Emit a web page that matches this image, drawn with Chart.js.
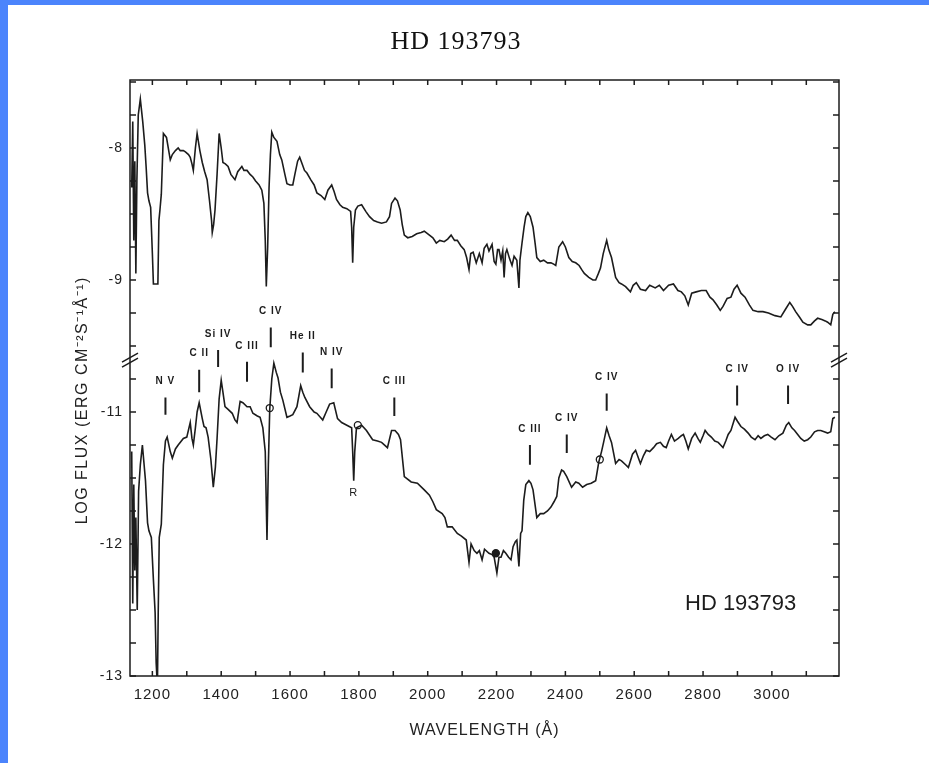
<!DOCTYPE html>
<html>
<head>
<meta charset="utf-8">
<title>HD 193793</title>
<script src="https://cdn.jsdelivr.net/npm/chart.js@4.4.1/dist/chart.umd.min.js"></script>
<style>
  html, body { margin: 0; padding: 0; background: #4b84fc; overflow: hidden; }
  #sheet { position: absolute; left: 8px; top: 5px; width: 921px; height: 758px; background: #fff; }
  #box { position: absolute; left: 0; top: 0; width: 896px; height: 758px; }
</style>
</head>
<body>
<div id="sheet"><div id="box"><canvas id="spectrum"></canvas></div></div>
<script>
// upper spectrum (log flux, its own labels -8 / -9)
var upperWave = [
  1140,1143,1146,1149,1152,1155,1159,1165,1172,1178,
  1182,1186,1190,1195,1200,1203,1210,1216,1219,1222,
  1226,1232,1241,1252,1258,1267,1275,1281,1290,1296,
  1305,1310,1315,1319,1325,1330,1338,1345,1352,1359,
  1366,1372,1374,1378,1382,1388,1394,1400,1405,1412,
  1420,1428,1440,1448,1460,1466,1475,1484,1492,1500,
  1510,1518,1524,1528,1531,1535,1539,1543,1547,1553,
  1562,1570,1576,1585,1591,1600,1608,1614,1622,1628,
  1635,1642,1649,1660,1670,1678,1690,1701,1710,1721,
  1728,1735,1745,1753,1765,1776,1779,1782,1785,1790,
  1797,1808,1820,1831,1843,1854,1866,1880,1889,1895,
  1905,1912,1920,1926,1932,1942,1955,1968,1981,1990,
  2005,2015,2025,2035,2048,2058,2068,2078,2086,2096,
  2106,2113,2120,2125,2132,2141,2150,2158,2164,2172,
  2178,2187,2193,2198,2203,2207,2213,2218,2222,2226,
  2230,2238,2245,2251,2259,2265,2268,2274,2280,2285,
  2291,2298,2306,2312,2317,2327,2337,2348,2358,2366,
  2372,2381,2392,2400,2410,2420,2430,2440,2447,2455,
  2468,2480,2488,2496,2502,2510,2520,2526,2534,2546,
  2556,2563,2575,2589,2597,2606,2618,2633,2645,2661,
  2673,2685,2700,2714,2727,2737,2747,2757,2767,2780,
  2795,2809,2820,2829,2840,2850,2858,2870,2881,2890,
  2899,2910,2922,2935,2945,2960,2974,2990,3009,3026,
  3040,3052,3060,3069,3080,3090,3104,3113,3124,3133,
  3145,3155,3162,3171,3177,3183
];
var upperFlux = [
  -8.30,-7.80,-8.70,-8.10,-8.95,-8.25,-7.75,-7.63,-7.80,-7.98,
  -8.15,-8.34,-8.40,-8.45,-8.80,-9.03,-9.03,-9.03,-8.55,-8.47,
  -8.35,-7.89,-7.92,-8.09,-8.05,-8.02,-8.00,-8.02,-8.02,-8.03,
  -8.05,-8.07,-8.12,-8.17,-8.00,-7.89,-8.02,-8.11,-8.18,-8.24,
  -8.40,-8.55,-8.64,-8.58,-8.47,-8.20,-7.89,-8.00,-8.11,-8.12,
  -8.14,-8.20,-8.24,-8.18,-8.14,-8.17,-8.17,-8.20,-8.22,-8.25,
  -8.28,-8.32,-8.42,-8.70,-9.05,-8.75,-8.30,-8.05,-7.88,-7.92,
  -7.95,-8.05,-8.09,-8.20,-8.27,-8.28,-8.28,-8.20,-8.10,-8.07,
  -8.12,-8.17,-8.19,-8.24,-8.28,-8.34,-8.36,-8.39,-8.32,-8.28,
  -8.33,-8.39,-8.43,-8.45,-8.46,-8.48,-8.60,-8.87,-8.60,-8.47,
  -8.44,-8.43,-8.48,-8.52,-8.55,-8.56,-8.57,-8.56,-8.52,-8.42,
  -8.38,-8.40,-8.47,-8.58,-8.66,-8.68,-8.67,-8.65,-8.64,-8.63,
  -8.66,-8.68,-8.72,-8.70,-8.71,-8.69,-8.66,-8.70,-8.70,-8.74,
  -8.77,-8.83,-8.92,-8.80,-8.79,-8.87,-8.80,-8.87,-8.76,-8.73,
  -8.78,-8.73,-8.86,-8.88,-8.77,-8.77,-8.85,-8.78,-8.98,-8.80,
  -8.77,-8.84,-8.89,-8.82,-8.85,-9.06,-8.85,-8.72,-8.60,-8.52,
  -8.49,-8.52,-8.60,-8.72,-8.83,-8.86,-8.85,-8.87,-8.87,-8.88,
  -8.89,-8.75,-8.71,-8.75,-8.83,-8.86,-8.87,-8.89,-8.92,-8.95,
  -8.98,-9.00,-9.00,-8.95,-8.91,-8.80,-8.70,-8.77,-8.83,-8.98,
  -9.02,-9.03,-9.05,-9.09,-9.04,-9.02,-9.07,-9.08,-9.04,-9.06,
  -9.04,-9.08,-9.04,-9.03,-9.08,-9.09,-9.12,-9.19,-9.10,-9.09,
  -9.08,-9.08,-9.13,-9.15,-9.19,-9.23,-9.20,-9.14,-9.13,-9.07,
  -9.04,-9.10,-9.13,-9.19,-9.23,-9.24,-9.24,-9.25,-9.27,-9.28,
  -9.22,-9.17,-9.20,-9.24,-9.28,-9.32,-9.34,-9.34,-9.31,-9.29,
  -9.30,-9.31,-9.32,-9.34,-9.26,-9.24
];

// lower spectrum (log flux, labels -11 .. -13)
var lowerWave = [
  1140,1143,1146,1149,1152,1156,1160,1165,1171,1180,
  1186,1190,1197,1203,1208,1211,1213,1215,1217,1220,
  1226,1232,1238,1243,1252,1258,1267,1275,1290,1300,
  1310,1315,1319,1325,1330,1336,1345,1350,1356,1362,
  1370,1377,1383,1388,1394,1400,1405,1411,1420,1432,
  1440,1446,1455,1463,1475,1484,1492,1505,1513,1521,
  1528,1533,1537,1541,1547,1553,1560,1565,1572,1579,
  1591,1600,1608,1620,1631,1637,1643,1657,1670,1678,
  1695,1705,1715,1727,1738,1750,1765,1779,1782,1785,
  1788,1793,1808,1822,1840,1854,1866,1883,1895,1905,
  1915,1921,1932,1952,1970,1990,2005,2015,2025,2042,
  2050,2057,2071,2086,2098,2112,2120,2126,2135,2143,
  2150,2158,2165,2178,2187,2193,2201,2207,2213,2220,
  2227,2235,2242,2248,2255,2259,2265,2270,2274,2279,
  2285,2294,2300,2306,2317,2327,2337,2348,2358,2367,
  2375,2381,2389,2395,2404,2418,2430,2439,2450,2462,
  2475,2488,2497,2505,2511,2520,2527,2534,2546,2556,
  2563,2575,2583,2595,2604,2618,2627,2635,2645,2656,
  2665,2676,2685,2693,2700,2708,2717,2728,2737,2743,
  2750,2757,2767,2777,2785,2792,2800,2806,2815,2824,
  2834,2844,2851,2858,2866,2873,2881,2893,2900,2910,
  2920,2931,2940,2951,2960,2968,2978,2988,2998,3009,
  3020,3032,3042,3049,3058,3066,3075,3084,3094,3104,
  3113,3124,3133,3142,3152,3162,3171,3177,3183
];
var lowerFlux = [
  -11.30,-12.45,-11.55,-12.20,-11.80,-12.50,-11.60,-11.40,-11.25,-11.52,
  -11.84,-11.90,-11.95,-12.27,-12.52,-12.90,-13.00,-13.00,-12.52,-11.95,
  -11.85,-11.40,-11.22,-11.19,-11.30,-11.35,-11.28,-11.25,-11.20,-11.19,
  -11.08,-11.20,-11.25,-11.12,-11.00,-10.93,-11.05,-11.11,-11.12,-11.19,
  -11.36,-11.57,-11.42,-11.20,-10.90,-10.76,-10.85,-10.96,-10.98,-11.01,
  -11.06,-11.08,-10.92,-10.93,-10.96,-10.96,-11.01,-11.03,-11.04,-11.12,
  -11.30,-11.97,-11.40,-10.98,-10.75,-10.63,-10.70,-10.74,-10.85,-10.91,
  -11.04,-11.03,-11.02,-10.96,-10.80,-10.85,-10.89,-10.96,-11.00,-11.01,
  -11.06,-11.00,-10.94,-10.93,-11.05,-11.08,-11.10,-11.12,-11.30,-11.52,
  -11.30,-11.12,-11.10,-11.14,-11.21,-11.22,-11.23,-11.27,-11.14,-11.14,
  -11.17,-11.21,-11.49,-11.53,-11.54,-11.59,-11.63,-11.68,-11.74,-11.77,
  -11.80,-11.87,-11.87,-11.92,-11.94,-11.97,-12.14,-12.00,-12.05,-12.07,
  -12.05,-12.12,-12.04,-12.07,-12.08,-12.10,-12.22,-12.10,-12.10,-12.05,
  -12.07,-12.10,-12.12,-12.02,-11.98,-11.97,-12.17,-11.92,-11.90,-11.67,
  -11.55,-11.52,-11.54,-11.59,-11.80,-11.77,-11.77,-11.75,-11.72,-11.68,
  -11.64,-11.50,-11.44,-11.45,-11.49,-11.57,-11.53,-11.54,-11.57,-11.55,
  -11.54,-11.52,-11.38,-11.30,-11.23,-11.12,-11.18,-11.23,-11.39,-11.36,
  -11.37,-11.40,-11.42,-11.32,-11.29,-11.39,-11.33,-11.29,-11.30,-11.27,
  -11.24,-11.23,-11.26,-11.27,-11.22,-11.17,-11.22,-11.20,-11.18,-11.17,
  -11.22,-11.28,-11.20,-11.16,-11.20,-11.23,-11.18,-11.14,-11.17,-11.19,
  -11.22,-11.23,-11.25,-11.27,-11.22,-11.17,-11.14,-11.04,-11.07,-11.11,
  -11.13,-11.16,-11.19,-11.21,-11.18,-11.20,-11.18,-11.17,-11.19,-11.21,
  -11.18,-11.16,-11.10,-11.08,-11.12,-11.14,-11.17,-11.20,-11.22,-11.21,
  -11.19,-11.15,-11.14,-11.14,-11.15,-11.16,-11.15,-11.05,-11.04
];

// the upper trace is drawn one decade higher than the lower one
var UPPER_SHIFT = 1;

// line identifications above the lower trace
var ionNames  = ['N V','C II','Si IV','C III','C IV','He II','N IV','C III','C III','C IV','C IV','C IV','O IV'];
var ionWave   = [1238,1336,1391,1475,1544,1637,1721,1903,2297,2404,2520,2899,3047];
var ionTop    = [-10.89,-10.68,-10.53,-10.62,-10.36,-10.55,-10.67,-10.89,-11.25,-11.17,-10.86,-10.80,-10.80];
var ionBottom = [-11.02,-10.85,-10.66,-10.77,-10.51,-10.70,-10.82,-11.03,-11.40,-11.31,-10.99,-10.95,-10.94];

// reseau marks on the lower trace
var markWave = [1541,1797,2198,2500];
var markFlux = [-10.97,-11.10,-12.07,-11.36];
var markFilled = [false,false,true,false];

// axes
var xTickValues = [1200,1300,1400,1500,1600,1700,1800,1900,2000,2100,2200,2300,2400,2500,2600,2700,2800,2900,3000,3100];
var xLabelTicks = [1200,1400,1600,1800,2000,2200,2400,2600,2800,3000];
var yTickValues = [-13,-12.75,-12.5,-12.25,-12,-11.75,-11.5,-11.25,-11,-10.75,-10.5,-10.25,-10,-9.75,-9.5,-9.25,-9,-8.75,-8.5];
var yTickPositions = [-13,-12,-11,-10,-9];
var yTickLabels = ['-13','-12','-11','-9','-8'];
var BREAK_AT = -10.6;

var ionBars = [];
ionWave.forEach(function (w, i) {
    ionBars.push({x: w, y: ionTop[i]});
    ionBars.push({x: w, y: ionBottom[i]});
    ionBars.push({x: w, y: null});
});

var ink = '#1c1c1c';

var decor = {
    id: 'decor',
    beforeDraw: function (chart) {
        chart.ctx.letterSpacing = '1px';
    },
    afterDraw: function (chart) {
        var c = chart.ctx, a = chart.chartArea;
        var x = chart.scales.x, y = chart.scales.y;
        c.save();
        c.strokeStyle = ink;
        c.lineWidth = 1.5;
        c.strokeRect(a.left, a.top, a.right - a.left, a.bottom - a.top);

        c.beginPath();
        x.ticks.forEach(function (t) {
            var px = x.getPixelForValue(t.value);
            c.moveTo(px, a.bottom); c.lineTo(px, a.bottom - 5);
            c.moveTo(px, a.top); c.lineTo(px, a.top + 5);
        });
        y.ticks.forEach(function (t) {
            var py = y.getPixelForValue(t.value);
            c.moveTo(a.left, py); c.lineTo(a.left + 6, py);
            c.moveTo(a.right, py); c.lineTo(a.right - 6, py);
        });
        c.stroke();

        // axis break marks
        var by = y.getPixelForValue(BREAK_AT);
        c.beginPath();
        [a.left, a.right].forEach(function (bx) {
            c.moveTo(bx - 8, by + 3); c.lineTo(bx + 8, by - 6);
            c.moveTo(bx - 8, by + 8); c.lineTo(bx + 8, by - 1);
        });
        c.stroke();

        c.fillStyle = ink;
        // y axis title
        c.save();
        c.translate(a.left - 47, y.getPixelForValue(-10.91));
        c.rotate(-Math.PI / 2);
        c.textAlign = 'center';
        c.textBaseline = 'middle';
        c.letterSpacing = '1.5px';
        c.font = '16px "Liberation Sans"';
        c.fillStyle = '#222';
        c.fillText('LOG FLUX (ERG CM⁻²S⁻¹Å⁻¹)', 0, 0);
        c.restore();

        // line identifications
        c.textAlign = 'center';
        c.textBaseline = 'middle';
        c.font = 'bold 10px "Liberation Sans"';
        ionNames.forEach(function (n, i) {
            c.fillText(n, x.getPixelForValue(ionWave[i]), y.getPixelForValue(ionTop[i]) - 16);
        });
        c.font = '11px "Liberation Sans"';
        c.fillText('R', x.getPixelForValue(1785), y.getPixelForValue(-11.61));

        c.font = '22px "Liberation Sans"';
        c.letterSpacing = '0px';
        c.textAlign = 'left';
        c.textBaseline = 'alphabetic';
        c.fillText('HD 193793', a.left + 555, a.top + 530);
        c.restore();
    }
};

var ctx = document.getElementById('spectrum').getContext('2d');

new Chart(ctx, {
    type: 'line',
    data: {
        datasets: [{
            label: 'upper',
            data: upperWave.map(function (w, i) { return {x: w, y: upperFlux[i] - UPPER_SHIFT}; }),
            borderColor: ink,
            borderWidth: 1.6,
            pointRadius: 0,
            tension: 0
        }, {
            label: 'lower',
            data: lowerWave.map(function (w, i) { return {x: w, y: lowerFlux[i]}; }),
            borderColor: ink,
            borderWidth: 1.6,
            pointRadius: 0,
            tension: 0
        }, {
            label: 'ions',
            data: ionBars,
            borderColor: ink,
            borderWidth: 2,
            pointRadius: 0,
            spanGaps: false
        }, {
            type: 'scatter',
            label: 'marks',
            data: markWave.map(function (w, i) { return {x: w, y: markFlux[i]}; }),
            pointRadius: 3.5,
            pointBorderWidth: 1.3,
            pointBorderColor: ink,
            pointBackgroundColor: markFilled.map(function (f) { return f ? ink : '#fff'; })
        }]
    },
    options: {
        responsive: true,
        maintainAspectRatio: false,
        animation: false,
        events: [],
        layout: { padding: 0 },
        plugins: {
            legend: { display: false },
            tooltip: { enabled: false },
            title: {
                display: true,
                text: 'HD 193793',
                color: '#111',
                font: { family: '"Liberation Serif"', size: 26, weight: 'normal' },
                padding: { top: 22, bottom: 21.8 }
            }
        },
        scales: {
            x: {
                type: 'linear',
                min: 1135,
                max: 3195,
                afterBuildTicks: function (s) { s.ticks = xTickValues.map(function (v) { return {value: v}; }); },
                afterFit: function (s) { s.height = 87; },
                grid: { display: false, drawTicks: false },
                border: { display: false },
                ticks: {
                    autoSkip: false,
                    maxRotation: 0,
                    padding: 10,
                    color: '#222',
                    font: { family: '"Liberation Sans"', size: 15 },
                    callback: function (v) { return xLabelTicks.indexOf(v) >= 0 ? String(v) : ''; }
                },
                title: {
                    display: true,
                    text: 'WAVELENGTH (Å)',
                    color: '#222',
                    font: { family: '"Liberation Sans"', size: 16 },
                    padding: { top: 0, bottom: 23 }
                }
            },
            y: {
                min: -13,
                max: -8.485,
                afterBuildTicks: function (s) { s.ticks = yTickValues.map(function (v) { return {value: v}; }); },
                afterFit: function (s) { s.width = 122; },
                grid: { display: false, drawTicks: false },
                border: { display: false },
                ticks: {
                    autoSkip: false,
                    padding: 7,
                    color: '#222',
                    font: { family: '"Liberation Sans"', size: 14 },
                    callback: function (v) {
                        for (var i = 0; i < yTickPositions.length; i++) {
                            if (Math.abs(yTickPositions[i] - v) < 1e-6) return yTickLabels[i];
                        }
                        return '';
                    }
                }
            },
            y2: {
                position: 'right',
                afterFit: function (s) { s.width = 65; },
                grid: { display: false },
                border: { display: false },
                ticks: { display: false }
            }
        }
    },
    plugins: [decor]
});
</script>
</body>
</html>
